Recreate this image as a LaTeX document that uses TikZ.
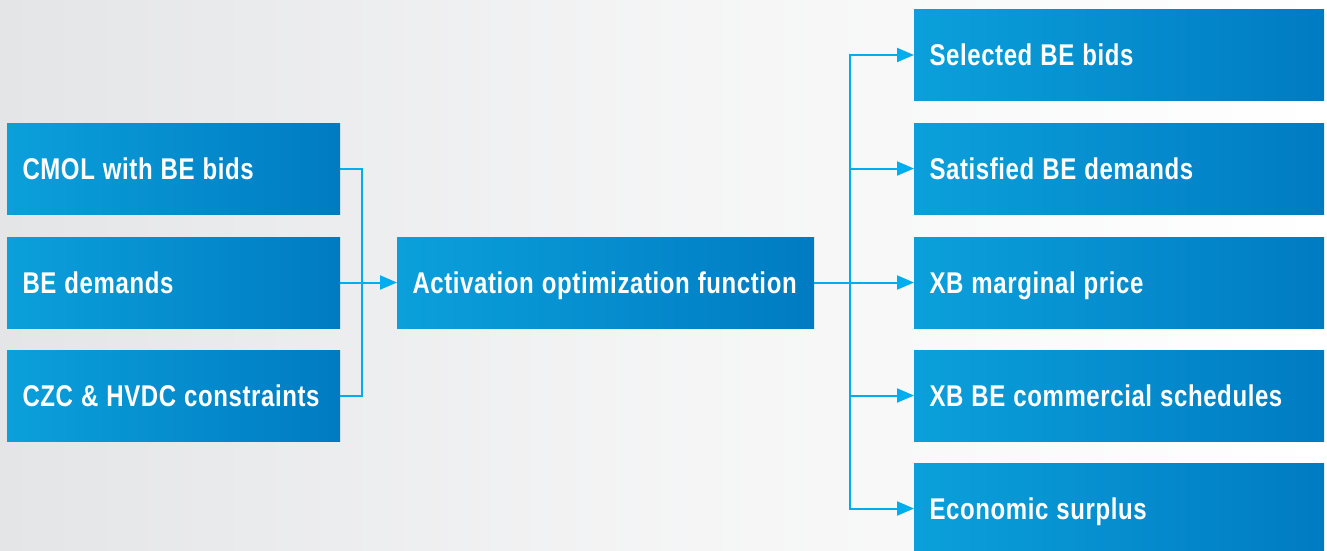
\documentclass[tikz,border=0pt]{standalone}
\usepackage{fontspec}
\newfontfamily\boxfontfam{Liberation Sans}[FakeStretch=0.80,WordSpace=1.1,LetterSpace=2]
\usetikzlibrary{arrows.meta}
\definecolor{boxL}{HTML}{0BA0DB}
\definecolor{boxR}{HTML}{007BC2}
\definecolor{conn}{HTML}{00AEEF}
\definecolor{bgL}{HTML}{E4E5E7}
\tikzset{
  bbox/.style={rectangle, left color=boxL, right color=boxR, draw=none,
    minimum height=91pt, inner xsep=15.5pt, inner ysep=0pt, outer sep=0pt,
    anchor=west, text=white,
    font=\boxfontfam\bfseries\fontsize{30}{32}\selectfont,
    text height=21.5pt, text depth=0pt},
  lw/.style={bbox, minimum width=333pt},
  cw/.style={bbox, minimum width=417pt},
  rw/.style={bbox, minimum width=410pt},
  link/.style={draw=conn, line width=2pt},
  arr/.style={link, -{Triangle[length=17pt,width=14pt]}}
}
\newcommand{\bxt}[2]{\makebox[#1][l]{#2}}
\begin{document}
\begin{tikzpicture}[x=1pt,y=-1pt]
\useasboundingbox (0,0) rectangle (1327,550);
\clip (0,0) rectangle (1327,550);
\shade[left color=bgL, right color=white, middle color=bgL!40!white] (0,0) rectangle (1327,550);
\node[lw] (L1) at (7,168.5) {\bxt{302pt}{CMOL with BE bids}};
\node[lw] (L2) at (7,282.5) {\bxt{302pt}{BE demands}};
\node[lw] (L3) at (7,395.5) {\bxt{302pt}{CZC \& HVDC constraints}};
\node[cw] (C) at (397,282.5) {\bxt{386pt}{Activation optimization function}};
\node[rw] (R1) at (914,55) {\bxt{379pt}{Selected BE bids}};
\node[rw] (R2) at (914,168.5) {\bxt{379pt}{Satisfied BE demands}};
\node[rw] (R3) at (914,282.5) {\bxt{379pt}{XB marginal price}};
\node[rw] (R4) at (914,395.5) {\bxt{379pt}{XB BE commercial schedules}};
\node[rw] (R5) at (914,508.5) {\bxt{379pt}{Economic surplus}};
\coordinate (jL) at (362,282.5);
\coordinate (jR) at (850,282.5);
\draw[link] (L1.east) -| (jL);
\draw[link] (L3.east) -| (jL);
\draw[arr] (L2.east) -- (C.west);
\draw[link] (C.east) -- (jR);
\draw[arr] (jR) |- (R1.west);
\draw[arr] (jR) |- (R2.west);
\draw[arr] (jR) -- (R3.west);
\draw[arr] (jR) |- (R4.west);
\draw[arr] (jR) |- (R5.west);
\end{tikzpicture}
\end{document}
